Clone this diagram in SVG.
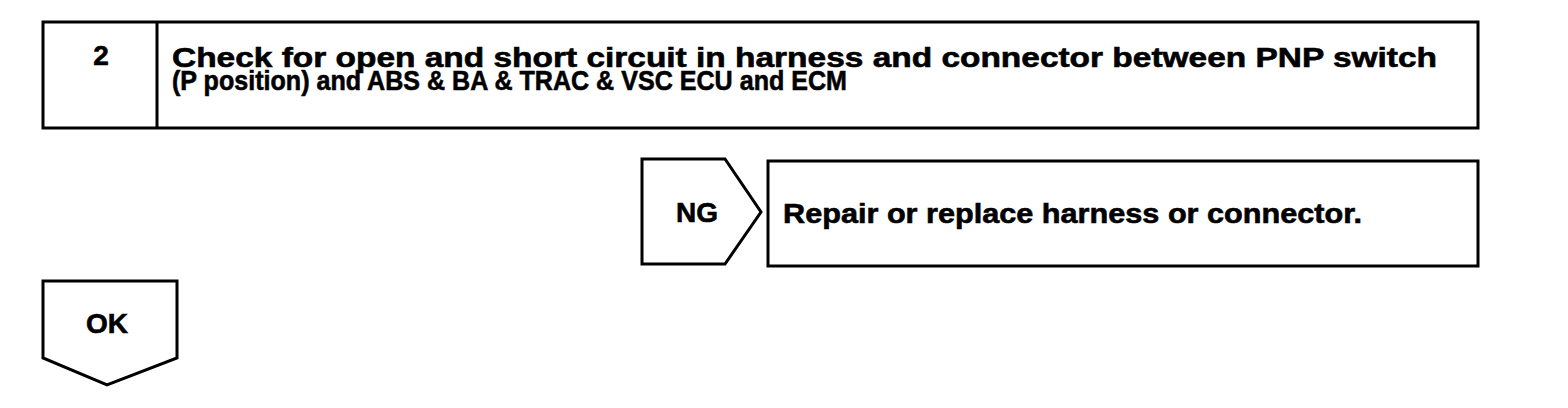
<svg xmlns="http://www.w3.org/2000/svg" width="1568" height="408" viewBox="0 0 1568 408">
<style>
.box{fill:#fff;stroke:#000;stroke-width:3;stroke-linejoin:miter}
.t{font-family:"Liberation Sans",Arial,sans-serif;font-weight:bold;font-size:28px;fill:#000;stroke:#000;stroke-width:0.6}
</style>
<rect width="1568" height="408" fill="#fff"/>
<g id="step2">
<rect class="box" x="43" y="22" width="1435" height="106"/>
<line class="box" x1="157" y1="22" x2="157" y2="128"/>
<text class="t" x="101" y="65" text-anchor="middle">2</text>
<text class="t" x="172" y="67" textLength="1265" lengthAdjust="spacingAndGlyphs">Check for open and short circuit in harness and connector between PNP switch</text>
<text class="t" x="172" y="90" textLength="675" lengthAdjust="spacingAndGlyphs">(P position) and ABS &amp; BA &amp; TRAC &amp; VSC ECU and ECM</text>
</g>
<g id="ng">
<path class="box" d="M642,159 H725 L761,212 L725,264 H642 Z"/>
<text class="t" x="697" y="222" text-anchor="middle">NG</text>
</g>
<g id="repair">
<rect class="box" x="768" y="161" width="710" height="105"/>
<text class="t" x="783" y="223" textLength="579" lengthAdjust="spacingAndGlyphs">Repair or replace harness or connector.</text>
</g>
<g id="ok">
<path class="box" d="M43,281 H177 V358 L107,385 L43,358 Z"/>
<text class="t" x="107" y="333" text-anchor="middle">OK</text>
</g>
<g id="connectors"></g>
</svg>
